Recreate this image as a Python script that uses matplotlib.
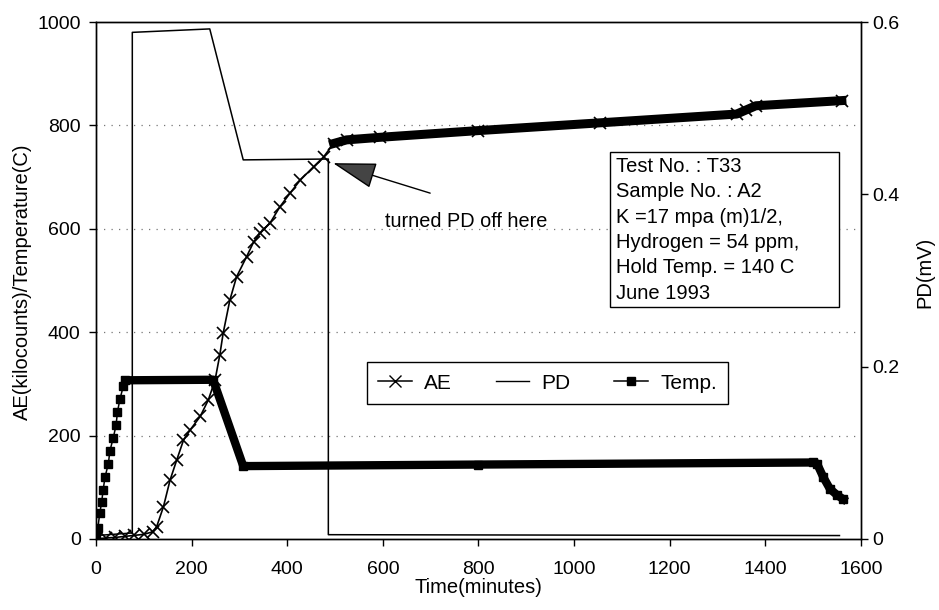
import matplotlib
matplotlib.use('Agg')
import matplotlib.pyplot as plt
from matplotlib.lines import Line2D
from matplotlib.patches import Rectangle

plt.rcParams['font.family'] = ['Liberation Sans', 'DejaVu Sans']
plt.rcParams['font.size'] = 14

# AE (kilocounts) vs time
time_ae = [0, 20, 40, 60, 80, 100, 119, 127, 141, 155, 169, 183, 197, 218, 235, 249,
           259, 266, 280, 294, 315, 330, 343, 352, 364, 385, 406, 427, 455, 476, 497,
           524, 594, 800, 1054, 1340, 1360, 1380, 1560]
ae = [0, 2, 3, 5, 7, 9, 14, 24, 62, 114, 153, 191, 211, 237, 269, 307,
      356, 398, 462, 507, 546, 575, 591, 600, 611, 643, 669, 694, 720, 739, 765,
      772, 777, 790, 805, 822, 830, 838, 848]

# PD (mV) vs time
time_pd = [0, 76, 76, 238, 308, 486, 486, 1555]
pd = [0.004, 0.007, 0.588, 0.592, 0.440, 0.441, 0.005, 0.004]

# Temperature (C) vs time
time_temp = [0, 4, 8, 12, 15, 19, 26, 29, 36, 42, 45, 50, 57, 61, 245, 308, 800,
             1500, 1508, 1521, 1535, 1550, 1563]
temp = [3, 22, 50, 72, 95, 120, 146, 170, 195, 220, 246, 270, 295, 307, 308, 141, 144,
        148, 146, 120, 97, 85, 77]

info_lines = ["Test No. : T33", "Sample No. : A2", "K =17 mpa (m)1/2,",
              "Hydrogen = 54 ppm,", "Hold Temp. = 140 C", "June 1993"]

fig = plt.figure(figsize=(9.39, 6.10), dpi=100)
ax = fig.add_axes([0.1022, 0.1164, 0.8147, 0.8475])
ax2 = ax.twinx()

# dotted gridlines
for g in [200, 400, 600, 800]:
    ax.axhline(g, color='#777777', lw=0.9, ls=(0, (1, 5)), zorder=0)

# AE: thin line with x markers, dense part drawn as a band
ax.plot(time_ae, ae, color='black', lw=1.2, marker='x', ms=8, mew=1.2)
i0 = time_ae.index(497)
ax.plot(time_ae[i0:], ae[i0:], color='black', lw=6.5)

# Temp: square markers, plateaus merge into a thick band
ax.plot(time_temp, temp, color='black', lw=1.1, marker='s', ms=6)
j0 = time_temp.index(61)
ax.plot(time_temp[j0:], temp[j0:], color='black', lw=6)

# PD on the right axis
ax2.plot(time_pd, pd, color='black', lw=1.1)

ax.set_xlim(0, 1600)
ax.set_ylim(0, 1000)
ax2.set_ylim(0, 0.6)
ax.set_xticks(range(0, 1601, 200))
ax.set_yticks(range(0, 1001, 200))
ax2.set_yticks([0, 0.2, 0.4, 0.6])
ax2.set_yticklabels(['0', '0.2', '0.4', '0.6'])

ax.tick_params(axis='x', direction='out', length=5, width=1, pad=11, labelsize=14)
ax.tick_params(axis='y', direction='out', length=5, width=1, pad=6, labelsize=14)
ax2.tick_params(axis='y', direction='out', length=5, width=1, pad=3, labelsize=14)
for a in (ax, ax2):
    for s in a.spines.values():
        s.set_linewidth(1.0)
        s.set_color('black')

ax.text(-0.096, 0.497, 'AE(kilocounts)/Temperature(C)', rotation=90,
        ha='center', va='center', transform=ax.transAxes, fontsize=14.5)
ax.text(1.084, 0.515, 'PD(mV)', rotation=90, ha='center', va='center',
        transform=ax.transAxes, fontsize=14.5)
ax.text(0.5, -0.075, 'Time(minutes)', ha='center', va='top',
        transform=ax.transAxes, fontsize=14.5)

# annotation for PD switch off
ax.text(604, 603, 'turned PD off here', ha='left', va='baseline', fontsize=14.3)
ax.annotate('', xy=(496, 727), xytext=(699, 669),
            arrowprops=dict(arrowstyle='-|>,head_length=27.8,head_width=8.3',
                            mutation_scale=1, shrinkA=0, shrinkB=0,
                            fc='#444444', ec='black', lw=1.0))

# info box, one text per line to keep the spacing of the original
ax2.add_patch(Rectangle((0.672, 0.449), 0.299, 0.300, transform=ax2.transAxes,
                        fill=True, fc='white', ec='black', lw=1.0, zorder=5))
for k, line in enumerate(info_lines):
    ax2.text(0.680, 0.710 - k * 0.049, line, transform=ax2.transAxes,
             ha='left', va='baseline', fontsize=14.5, zorder=6)

handles = [Line2D([], [], color='black', lw=1.1, marker='x', ms=8),
           Line2D([], [], color='black', lw=1.0),
           Line2D([], [], color='black', lw=1.1, marker='s', ms=6)]
leg = ax2.legend(handles, ['AE', 'PD', 'Temp.'], ncol=3, loc='upper left',
                 bbox_to_anchor=(0.354, 0.342), borderaxespad=0, fancybox=False,
                 framealpha=1, edgecolor='black', handlelength=1.6, borderpad=0.55,
                 handletextpad=0.6, columnspacing=2.1, fontsize=15)
leg.get_frame().set_linewidth(1.0)

fig.savefig('out.png', dpi=100)
